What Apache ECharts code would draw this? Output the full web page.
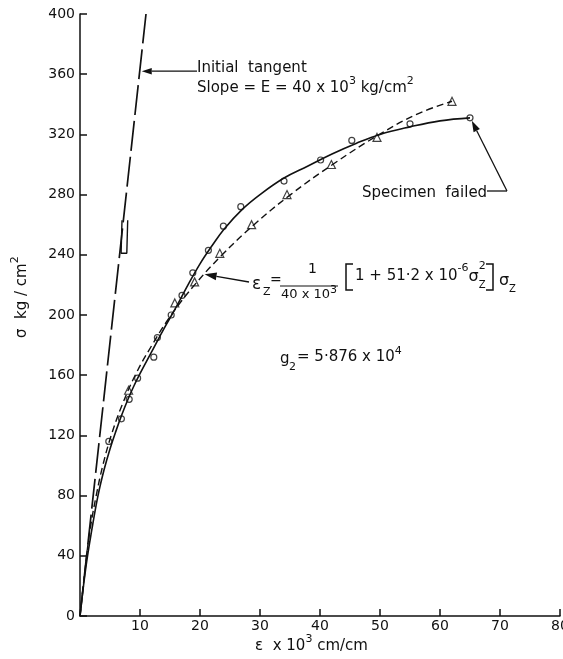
<!DOCTYPE html>
<html>
<head>
<meta charset="utf-8">
<script src="https://cdn.jsdelivr.net/npm/echarts@6/dist/echarts.min.js"></script>
<style>
html,body{margin:0;padding:0;background:#fff;}
#chart{width:563px;height:659px;}
</style>
</head>
<body>
<div id="chart"></div>
<script>
// strain in units of 10^-3 cm/cm, stress in kg/cm2
const fairStrain = [0, 1, 2, 3, 4, 5, 6, 7, 8, 9, 10, 12, 14, 16, 18, 20, 22, 24, 27, 30, 34, 38, 42, 46, 50, 55, 60, 65];
const fairStress = [0, 33, 58, 80, 97, 111, 123, 134, 144, 153, 161, 176, 191, 205, 220, 234, 246, 257, 270, 280, 291, 299, 307, 314, 320, 325, 329, 331];

const eqStrain = [0, 1.1, 1.7, 2.7, 3.8, 5.2, 7.0, 9.2, 12.0, 15.2, 19.1, 23.7, 29.0, 35.1, 42.1, 49.9, 56.5, 62];
const eqStress = [0, 40, 58, 80, 100, 120, 140, 160, 180, 200, 220, 240, 260, 280, 300, 320, 334, 342];

const circStrain = [4.8, 6.9, 8.2, 9.6, 12.3, 12.9, 15.2, 17, 18.8, 21.4, 23.9, 26.8, 34, 40.1, 45.3, 55, 65];
const circStress = [116, 131, 144, 158, 172, 185, 200, 213, 228, 243, 259, 272, 289, 303, 316, 327, 331];

const triStrain = [8.1, 15.8, 19.1, 23.3, 28.6, 34.5, 41.9, 49.5, 62];
const triStress = [150, 208, 222, 241, 260, 280, 300, 318, 342];

const tangentStrain = [0, 11.0];
const tangentStress = [0, 400];

// little closed stroke drawn beside the tangent line
const loopStrain = [7.0, 6.85, 7.8, 7.95];
const loopStress = [263, 241, 241, 263];

const INK = '#111';
const FONT = '"DejaVu Sans", sans-serif';

const zip = (a, b) => a.map((v, i) => [v, b[i]]);

const chart = echarts.init(document.getElementById('chart'), null, {renderer: 'canvas'});

const axisCommon = {
	type: 'value',
	axisLine: {show: true, onZero: false, lineStyle: {color: INK, width: 1.5}},
	axisTick: {show: true, inside: true, length: 7, lineStyle: {color: INK, width: 1.5}},
	splitLine: {show: false},
};

chart.setOption({
	animation: false,
	backgroundColor: '#fff',
	grid: {left: 80, right: 3, top: 14, bottom: 43, containLabel: false, outerBoundsMode: 'none'},
	xAxis: Object.assign({}, axisCommon, {
		min: 0, max: 80, interval: 10,
		axisLabel: {showMinLabel: false, margin: 3, color: INK, fontSize: 14, fontFamily: FONT},
	}),
	yAxis: Object.assign({}, axisCommon, {
		min: 0, max: 400, interval: 40,
		axisLabel: {margin: 5, color: INK, fontSize: 14, fontFamily: FONT},
	}),
	series: [
		{
			name: 'tangent', type: 'line', data: zip(tangentStrain, tangentStress),
			showSymbol: false, silent: true,
			lineStyle: {color: INK, width: 1.7, type: [30, 6]},
		},
		{
			name: 'loop', type: 'line', data: zip(loopStrain, loopStress),
			showSymbol: false, silent: true,
			lineStyle: {color: INK, width: 1.4},
		},
		{
			name: 'faired', type: 'line', data: zip(fairStrain, fairStress),
			showSymbol: false, smooth: 0.4, silent: true,
			lineStyle: {color: INK, width: 1.6},
		},
		{
			name: 'equation', type: 'line', data: zip(eqStrain, eqStress),
			showSymbol: false, smooth: 0.4, silent: true,
			lineStyle: {color: INK, width: 1.4, type: [7, 4]},
		},
		{
			name: 'circles', type: 'scatter', data: zip(circStrain, circStress),
			symbol: 'circle', symbolSize: 6, silent: true,
			itemStyle: {color: '#fff', borderColor: INK, borderWidth: 1.2},
		},
		{
			name: 'triangles', type: 'scatter', data: zip(triStrain, triStress),
			symbol: 'triangle', symbolSize: 8, silent: true,
			itemStyle: {color: '#fff', borderColor: INK, borderWidth: 1.2},
		},
	],
});

// ---- annotations ----
const meas = document.createElement('canvas').getContext('2d');
function txt(x, y, t, size) {
	return {
		type: 'text', x: x, y: y, silent: true, z: 100,
		style: {text: t, font: size + 'px ' + FONT, fill: INK,
			textVerticalAlign: 'middle', verticalAlign: 'middle'},
	};
}
// a run of text pieces: [text, size, dy]
function run(x, y, parts) {
	const out = [];
	let cx = x;
	for (const p of parts) {
		out.push(txt(cx, y + (p[2] || 0), p[0], p[1]));
		meas.font = p[1] + 'px ' + FONT;
		cx += meas.measureText(p[0]).width;
	}
	return out;
}
function seg(x1, y1, x2, y2, w) {
	return {type: 'line', silent: true, z: 100, shape: {x1: x1, y1: y1, x2: x2, y2: y2},
		style: {stroke: INK, lineWidth: w || 1.3}};
}
function poly(points, w) {
	return {type: 'polyline', silent: true, z: 100, shape: {points: points},
		style: {stroke: INK, lineWidth: w || 1.5, fill: null}};
}
function arrow(from, tip, head) {
	const dx = tip[0] - from[0], dy = tip[1] - from[1];
	const L = Math.hypot(dx, dy), ux = dx / L, uy = dy / L;
	const bx = tip[0] - ux * head, by = tip[1] - uy * head, w = head * 0.32;
	return [
		seg(from[0], from[1], bx, by, 1.3),
		{type: 'polygon', silent: true, z: 100,
			shape: {points: [tip, [bx - uy * w, by + ux * w], [bx + uy * w, by - ux * w]]},
			style: {fill: INK}},
	];
}

const px = p => chart.convertToPixel({gridIndex: 0}, p);
const tipTangent = px([9.96, 362]);
const tipEq = px([20.6, 227]);
const tipFailed = px([65.3, 329]);

let g = [];
// initial tangent note
g = g.concat(arrow([197, tipTangent[1]], [tipTangent[0] + 2, tipTangent[1]], 10));
g = g.concat(run(197, 68, [['Initial  tangent', 15]]));
g = g.concat(run(197, 88, [['Slope = E = 40 x 10', 15], ['3', 11, -7], [' kg/cm', 15], ['2', 11, -7]]));

// equation note
g = g.concat(arrow([249, 282], [tipEq[0] + 1, tipEq[1]], 12));
g.push(txt(252, 285, 'ε', 17));
g.push(txt(263, 292, 'Z', 11));
g.push(txt(270, 280, '=', 14));
g.push(txt(308, 269, '1', 14));
g.push(seg(280, 286, 338, 286, 1.2));
g = g.concat(run(281, 295, [['40 x 10', 13], ['3', 11, -5]]));
g.push(poly([[353, 264], [346, 264], [346, 290], [353, 290]]));
const inner = run(355, 276, [['1 + 51·2 x 10', 15], ['-6', 11, -8], ['σ', 16, 1]]);
g = g.concat(inner);
meas.font = '16px ' + FONT;
const zx = inner[2].x + meas.measureText('σ').width;
g.push(txt(zx, 285, 'Z', 10));
g.push(txt(zx, 266, '2', 11));
g.push(poly([[486, 264], [493, 264], [493, 290], [486, 290]]));
g.push(txt(499, 281, 'σ', 16));
g.push(txt(509, 289, 'Z', 10));

// g2 note
g.push(txt(280, 359, 'g', 15));
g.push(txt(289, 367, '2', 11));
g = g.concat(run(297, 357, [['= 5·876 x 10', 15], ['4', 11, -6]]));

// specimen failed note
g = g.concat(run(362, 193, [['Specimen  failed', 15]]));
g.push(seg(487, 191, 507, 191, 1.3));
g = g.concat(arrow([507, 191], tipFailed, 11));

// axis titles
g = g.concat(run(255, 646, [['ε  x 10', 15], ['3', 11, -7], [' cm/cm', 15]]));
g.push({
	type: 'group', x: 22, y: 338, rotation: Math.PI / 2, silent: true,
	children: run(0, 0, [['σ  kg / cm', 15], ['2', 11, -7]]),
});

chart.setOption({graphic: {elements: g}});
</script>
</body>
</html>
